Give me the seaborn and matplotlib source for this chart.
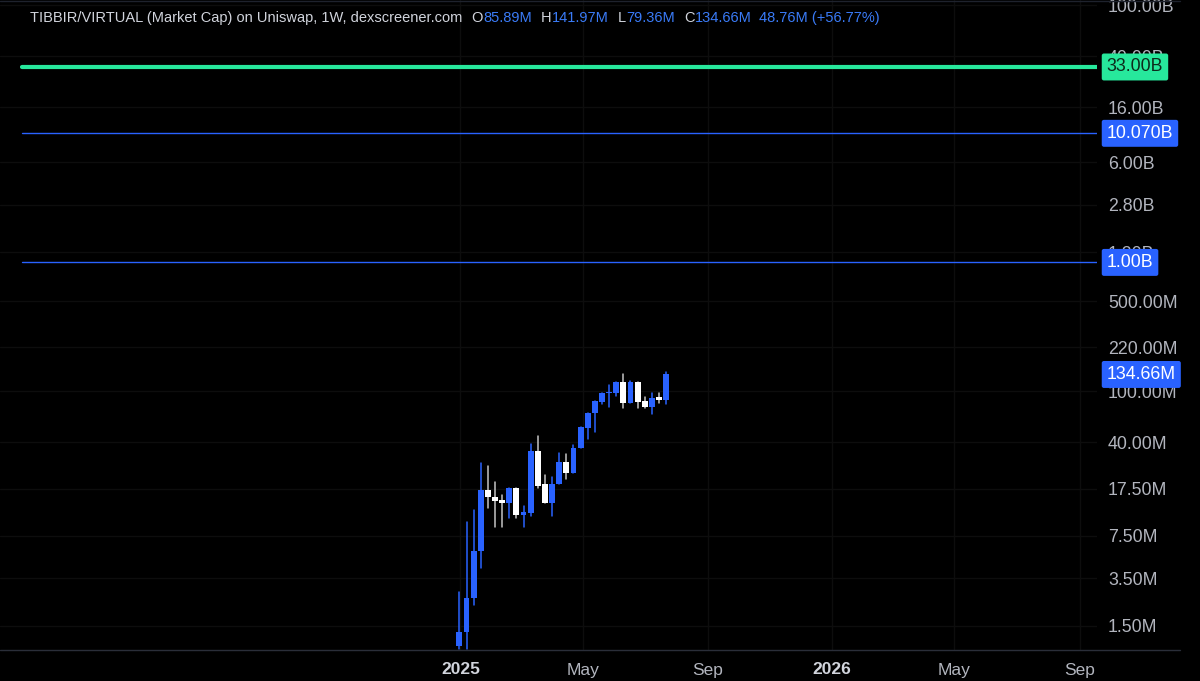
import matplotlib
matplotlib.use("Agg")
import numpy as np
import pandas as pd
import seaborn as sns
import matplotlib.pyplot as plt
import matplotlib.transforms as mtransforms
from matplotlib.lines import Line2D
from matplotlib.ticker import NullLocator, FixedLocator, FixedFormatter

# ---------------- data ----------------
week_start = "2024-12-31"
opens  = [1.05, 1.35, 2.48, 5.75, 17.1, 15.1, 14.2, 13.4, 17.6, 10.9, 11.3, 34.2, 18.9, 13.4, 18.9,
          28.0, 23.0, 35.9, 52.0, 67.4, 82.3, 96.7, 97.2, 117.0, 80.4, 117.0, 84.2, 75.6, 89.4, 85.89]
highs  = [2.75, 9.6, 11.9, 27.6, 26.3, 19.7, 15.6, 17.6, 17.6, 12.9, 38.8, 44.8, 22.3, 21.6, 32.9,
          32.3, 38.1, 52.9, 68.0, 83.3, 97.2, 111.5, 117.0, 135.8, 120.5, 117.0, 90.5, 96.1, 96.1, 141.97]
lows   = [0.99, 0.99, 2.18, 4.22, 12.4, 8.8, 8.8, 10.3, 10.4, 8.8, 10.7, 17.6, 13.4, 10.7, 18.9,
          20.6, 23.0, 35.9, 42.5, 48.4, 78.9, 75.6, 91.6, 73.5, 80.4, 73.5, 73.5, 66.4, 80.4, 79.36]
closes = [1.35, 2.48, 5.75, 17.1, 15.1, 14.1, 13.6, 17.6, 10.9, 11.4, 34.2, 18.4, 13.4, 19.0, 28.0,
          23.0, 36.3, 52.9, 68.0, 83.3, 97.2, 98.9, 117.0, 80.4, 117.0, 82.7, 74.8, 88.9, 86.0, 134.66]

ytick_values = [1.5e6, 3.5e6, 7.5e6, 17.5e6, 40e6, 100e6, 220e6, 500e6,
                1.2e9, 2.8e9, 6e9, 16e9, 40e9, 100e9]
ytick_labels = ["1.50M", "3.50M", "7.50M", "17.50M", "40.00M", "100.00M", "220.00M", "500.00M",
                "1.20B", "2.80B", "6.00B", "16.00B", "40.00B", "100.00B"]
xtick_dates = ["2025-01-01", "2025-05-01", "2025-09-01", "2026-01-01", "2026-05-01", "2026-09-01"]
xtick_labels = ["2025", "May", "Sep", "2026", "May", "Sep"]

level_values = [33e9, 10.07e9, 1e9]
level_labels = ["33.00B", "10.070B", "1.00B"]
last_label = "134.66M"

header_name = "TIBBIR/VIRTUAL (Market Cap) on Uniswap, 1W, dexscreener.com"
header_keys = ["O", "H", "L", "C"]
header_vals = ["85.89M", "141.97M", "79.36M", "134.66M"]
header_change = "48.76M (+56.77%)"

# ---------------- style ----------------
BLUE = "#2962FF"
BLUE_TXT = "#3a7bf7"
GREEN = "#27E89C"
WHITE = "#FFFFFF"
WICK_DOWN = "#C4C4C4"
AXIS_TXT = "#B2B5BE"
GRID = "#0d0d0d"

sns.set_theme(style="dark")
plt.rcParams["font.family"] = ["Liberation Sans", "DejaVu Sans"]

W, H = 1200, 681
fig = plt.figure(figsize=(W / 100, H / 100), dpi=100, facecolor="black")
ax = fig.add_axes([0, 31 / H, 1097 / W, 650 / H])
ax.set_facecolor("black")

dates = pd.date_range(week_start, periods=len(opens), freq="7D")
scale = 1e6
o = np.array(opens) * scale
h = np.array(highs) * scale
l = np.array(lows) * scale
c = np.array(closes) * scale
kind = np.where(c >= o, "up", "down")

# wicks via seaborn
rows = []
for i, d in enumerate(dates):
    rows.append({"date": d, "value": l[i], "id": i, "kind": kind[i]})
    rows.append({"date": d, "value": h[i], "id": i, "kind": kind[i]})
wdf = pd.DataFrame(rows)
sns.lineplot(data=wdf, x="date", y="value", units="id", estimator=None, hue="kind",
             palette={"up": BLUE, "down": WICK_DOWN}, legend=False, linewidth=1.1,
             sort=False, ax=ax, zorder=3)

# bodies
bottoms = np.minimum(o, c)
tops = np.maximum(o, c)
colors = [BLUE if k == "up" else WHITE for k in kind]
ax.bar(dates, tops - bottoms, bottom=bottoms, width=5.8, color=colors,
       edgecolor="none", zorder=4, linewidth=0)

ax.set_yscale("log")
ax.set_ylim(9.73e5, 1.094e11)
ax.set_xlim(pd.Timestamp("2023-10-07"), pd.Timestamp("2026-09-18"))

ax.yaxis.tick_right()
ax.yaxis.set_major_locator(FixedLocator(ytick_values))
ax.yaxis.set_major_formatter(FixedFormatter(ytick_labels))
ax.yaxis.set_minor_locator(NullLocator())
ax.tick_params(axis="y", length=0, pad=8, labelsize=12.8, labelcolor=AXIS_TXT)

xt = [pd.Timestamp(d) for d in xtick_dates]
ax.set_xticks(xt)
ax.set_xticklabels(xtick_labels)
ax.xaxis.set_minor_locator(NullLocator())
ax.tick_params(axis="x", length=0, pad=9, labelsize=12.5, labelcolor=AXIS_TXT)
for lab in ax.get_xticklabels():
    if lab.get_text().isdigit():
        lab.set_fontweight("bold")
        lab.set_color("#D1D4DC")
ax.set_xlabel("")
ax.set_ylabel("")

ax.grid(True, color=GRID, linewidth=1)
for s in ["top", "right", "left", "bottom"]:
    ax.spines[s].set_visible(False)

# bottom and top axis lines
fig.add_artist(Line2D([0, 1180 / W], [31 / H, 31 / H], color="#2a2e39", lw=1,
                      transform=fig.transFigure))
fig.add_artist(Line2D([0, 1180 / W], [1 - 0.5 / H, 1 - 0.5 / H], color="#1e222d", lw=1,
                      transform=fig.transFigure))

# horizontal levels
x0 = 22 / 1097
ax.axhline(level_values[0], xmin=x0, xmax=1, color=GREEN, lw=3, zorder=5)
for v in level_values[1:]:
    ax.axhline(v, xmin=x0, xmax=1, color=BLUE, lw=1, zorder=5)

blend = mtransforms.blended_transform_factory(ax.transAxes, ax.transData)
def tag(val, text, fc, tc):
    ax.annotate(text, xy=(1, val), xycoords=blend, xytext=(7, 0), textcoords="offset points",
                ha="left", va="center", fontsize=12.8, color=tc, clip_on=False, zorder=20,
                bbox=dict(boxstyle="round,pad=0.28,rounding_size=0.12", fc=fc, ec="none"))

tag(level_values[0], level_labels[0], GREEN, "#0d2a1c")
tag(level_values[1], level_labels[1], BLUE, "white")
tag(level_values[2], level_labels[2], BLUE, "white")
tag(c[-1], last_label, BLUE, "white")

# header
fig.canvas.draw()
r = fig.canvas.get_renderer()
ypos = 1 - 18 / H
pieces = [(header_name, "#D1D4DC", 9)]
for k, v in zip(header_keys, header_vals):
    pieces.append((k, "#D1D4DC", 0.5))
    pieces.append((v, BLUE_TXT, 9))
pieces[-1] = (pieces[-1][0], BLUE_TXT, 7)
pieces.append((header_change, BLUE_TXT, 0))
xpix = 30
for txt, col, gap in pieces:
    t = fig.text(xpix / W, ypos, txt, color=col, fontsize=10.5, ha="left", va="center")
    bb = t.get_window_extent(renderer=r)
    xpix = bb.x1 + gap

fig.savefig("out.png", dpi=100, facecolor="black")
